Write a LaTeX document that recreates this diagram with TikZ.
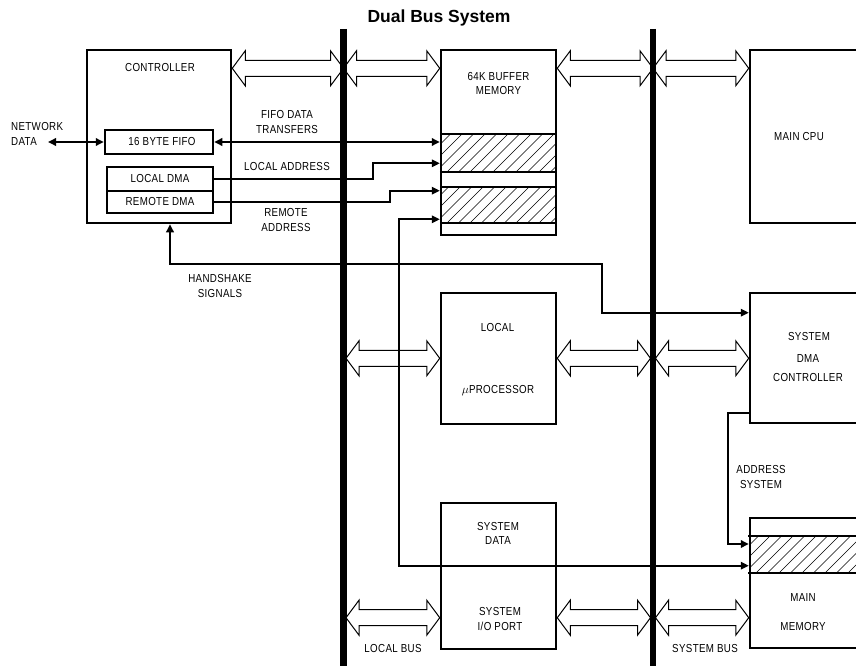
\documentclass[tikz,border=0pt]{standalone}
\usepackage{fontspec}
\setmainfont{Liberation Sans}
\newfontfamily\lab[LetterSpace=3,FakeStretch=0.84]{Liberation Sans}
\usetikzlibrary{arrows.meta,calc}
\tikzset{
  box/.style={draw, line width=2.5pt, inner sep=0pt},
  boxline/.style={line width=2.5pt},
  conn/.style={line width=1.8pt},
  arr/.style={conn, -{Triangle[length=8pt,width=7.5pt]}},
  dbl/.style={conn, {Triangle[length=8pt,width=7.5pt]}-{Triangle[length=8pt,width=7.5pt]}},
  busline/.style={line width=6.5pt},
  busar/.style={line width=1pt, line join=miter},
  hatch/.style={line width=0.5pt},
  lbl/.style={font=\fontsize{11.6}{14.5}\selectfont\lab, align=center, inner sep=0pt},
}
\newcommand{\busarrow}[2]{%
  \draw[busar] let \p1=#1, \p2=#2 in
   (\x1,\y1) -- (\x1+13pt,\y1+17.5pt) -- (\x1+13pt,\y1+8pt) -- (\x2-13pt,\y1+8pt)
   -- (\x2-13pt,\y1+17.5pt) -- (\x2,\y1) -- (\x2-13pt,\y1-17.5pt) -- (\x2-13pt,\y1-8pt)
   -- (\x1+13pt,\y1-8pt) -- (\x1+13pt,\y1-17.5pt) -- cycle;}
\newcommand{\hatchrect}[4]{%
  \begin{scope}
    \clip (#1,#2) rectangle (#3,#4);
    \foreach \s in {0,...,16} {\draw[hatch] ({#1-40+\s*11.5},#4) -- ++(60,-60);}
  \end{scope}}
\begin{document}
\begin{tikzpicture}[x=1pt,y=-1pt]
\useasboundingbox (0,0) rectangle (856,666);
\clip (0,0) rectangle (856,666);

% title
\node[font=\bfseries\fontsize{17.5}{20}\selectfont, inner sep=0pt] (title) at (439,18) {Dual Bus System};

% buses
\coordinate (lbT) at (343.5,29);
\coordinate (lbB) at (343.5,670);
\coordinate (sbT) at (653,29);
\coordinate (sbB) at (653,670);
\draw[busline] (lbT) -- (lbB);
\draw[busline] (sbT) -- (sbB);
\coordinate (lbl) at (341.5,0);
\coordinate (lbr) at (346,0);
\coordinate (sbl) at (650.5,0);
\coordinate (sbr) at (655.5,0);
\coordinate (r1) at (0,68.3);
\coordinate (r2) at (0,358.3);
\coordinate (r3) at (0,617.7);

% hatching
\hatchrect{441}{134}{556}{172}
\hatchrect{441}{187}{556}{223}
\hatchrect{750}{536}{870}{573}

% boxes
\node[box, minimum width=144pt, minimum height=173pt] (ctrl) at (159,136.5) {};
\node[box, lbl, minimum width=108pt, minimum height=24pt] (fifo) at (159,142) {\hspace{6pt}16 BYTE FIFO};
\node[box, lbl, minimum width=106pt, minimum height=24pt] (ldma) at (160,179) {LOCAL DMA};
\node[box, lbl, minimum width=106pt, minimum height=22pt] (rdma) at (160,202) {REMOTE DMA};
\node[box, minimum width=115pt, minimum height=185pt] (buf) at (498.5,142.5) {};
\draw[boxline] (buf.west |- 0,134) -- (buf.east |- 0,134);
\draw[boxline] (buf.west |- 0,172) -- (buf.east |- 0,172);
\draw[boxline] (buf.west |- 0,187) -- (buf.east |- 0,187);
\draw[boxline] (buf.west |- 0,223) -- (buf.east |- 0,223);
\node[box, minimum width=130pt, minimum height=173pt] (cpu) at (815,136.5) {};
\node[box, minimum width=115pt, minimum height=131pt] (up) at (498.5,358.5) {};
\node[box, minimum width=130pt, minimum height=130pt] (dma) at (815,358) {};
\node[box, minimum width=115pt, minimum height=146pt] (io) at (498.5,576) {};
\node[box, minimum width=130pt, minimum height=130pt] (mm) at (815,583) {};
\draw[boxline] (748,536) -- (mm.east |- 0,536);
\draw[boxline] (748,573) -- (mm.east |- 0,573);

% texts
\node[lbl] (tctrl) at (160,68) {CONTROLLER};
\node[lbl, anchor=west, align=left] (tnet) at (11,134) {NETWORK\\DATA};
\node[lbl] (tfifo) at (287,122) {FIFO DATA\\TRANSFERS};
\node[lbl] (tla) at (287,166.7) {LOCAL ADDRESS};
\node[lbl] (tra) at (286,220) {REMOTE\\ADDRESS};
\node[lbl] (ths) at (220,286) {HANDSHAKE\\SIGNALS};
\node[lbl] (tbuf) at (498.5,83.3) {64K BUFFER\\MEMORY};
\node[lbl] (tcpu) at (799,137) {MAIN CPU};
\node[lbl] (tloc) at (497.5,327.5) {LOCAL};
\node[lbl] (tup) at (498,390.7) {$\mu$PROCESSOR};
\node[lbl] (tsys1) at (809,336.5) {SYSTEM};
\node[lbl] (tsys2) at (808,358.5) {DMA};
\node[lbl] (tsys3) at (808,377.7) {CONTROLLER};
\node[lbl] (tas) at (761,476.8) {ADDRESS\\SYSTEM};
\node[lbl] (tsd) at (498,533.5) {SYSTEM\\DATA};
\node[lbl] (tio) at (500,619) {SYSTEM\\I/O PORT};
\node[lbl] (tmain) at (803,597.5) {MAIN};
\node[lbl] (tmem) at (803,626) {MEMORY};
\node[lbl] (tlb) at (393,648.3) {LOCAL BUS};
\node[lbl] (tsb) at (705,648.3) {SYSTEM BUS};

% bus arrows
\busarrow{(ctrl.east |- r1)}{(lbT |- r1)}
\busarrow{(lbT |- r1)}{(buf.west |- r1)}
\busarrow{(buf.east |- r1)}{(sbT |- r1)}
\busarrow{(sbT |- r1)}{(cpu.west |- r1)}
\busarrow{(lbr |- r2)}{(up.west |- r2)}
\busarrow{(up.east |- r2)}{(sbl |- r2)}
\busarrow{(sbr |- r2)}{(dma.west |- r2)}
\busarrow{(lbr |- r3)}{(io.west |- r3)}
\busarrow{(io.east |- r3)}{(sbl |- r3)}
\busarrow{(sbr |- r3)}{(mm.west |- r3)}

% connectors
\coordinate (net) at (48,142);
\draw[dbl] (net) -- (fifo.west);
\draw[dbl] (fifo.east) -- (fifo.east -| buf.west);
\draw[arr] (ldma.east) -- ++(159,0) |- (buf.west |- 0,163.3);
\draw[arr] (rdma.east) -- ++(176,0) |- (buf.west |- 0,190.7);
\draw[dbl] (buf.west |- 0,219.3) -| (399,400) |- (mm.west |- 0,565.7);
\draw[dbl] (ctrl.south -| 170,0) |- (602,264.3) |- (dma.west |- 0,312.7);
\draw[arr] (dma.west |- 0,412.7) -| (728,480) |- (mm.west |- 0,544);
\end{tikzpicture}
\end{document}
